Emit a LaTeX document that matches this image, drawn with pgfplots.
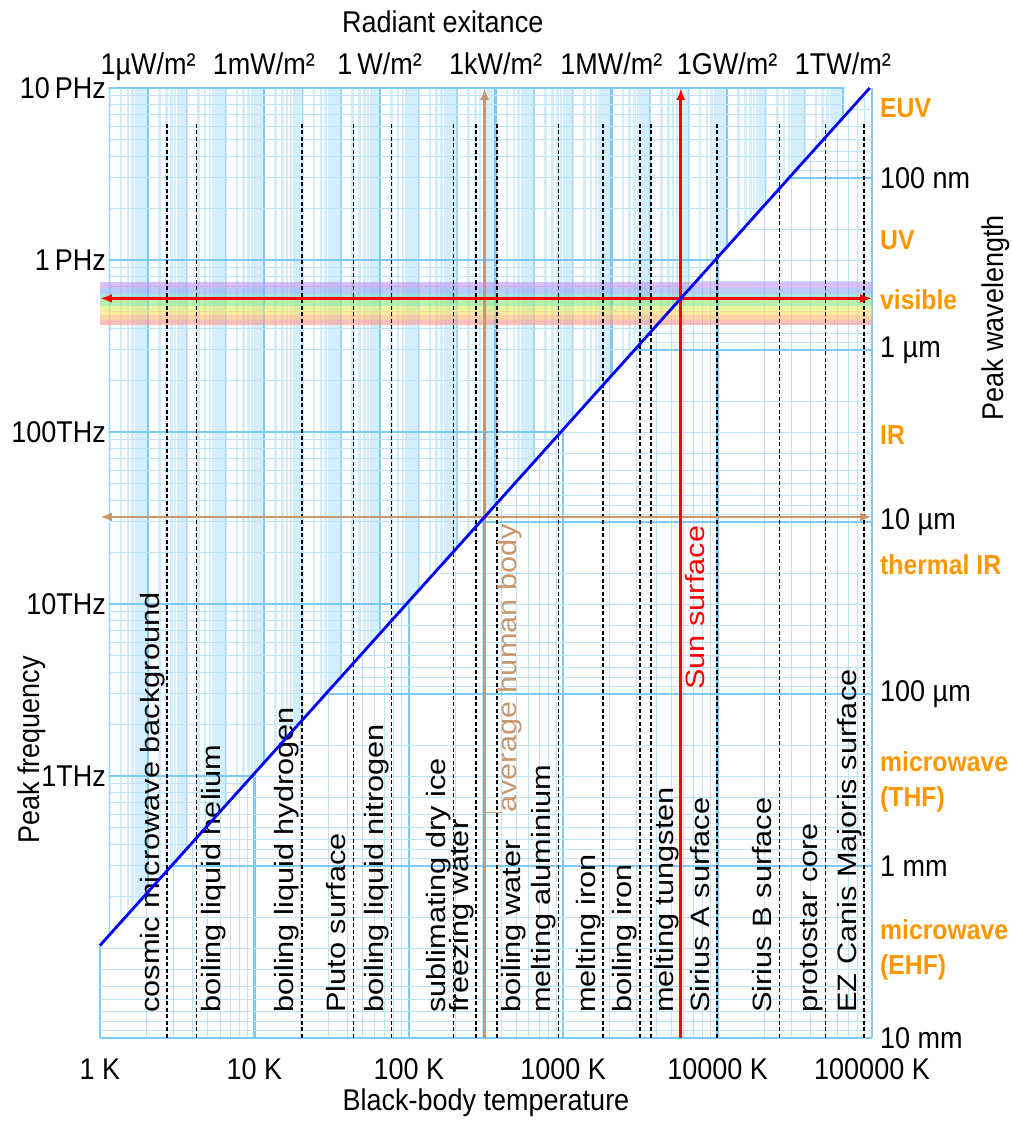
\documentclass[border=0pt]{standalone}
\usepackage{fontspec}
\usepackage{pgfplots}
\pgfplotsset{compat=1.18}
\usetikzlibrary{arrows.meta}
\setmainfont{Liberation Sans}
\newfontfamily\hfont[FakeStretch=0.9]{Liberation Sans}
\newfontfamily\vfont[FakeStretch=1.16]{Liberation Sans}
\newcommand\hf{\hfont\fontsize{30}{34}\selectfont}
\newcommand\vf{\vfont\fontsize{26.5}{30}\selectfont}
\newcommand\of{\hfont\bfseries\fontsize{27.5}{35}\selectfont}

\definecolor{gridmaj}{RGB}{125,202,246}
\definecolor{griddec}{RGB}{160,216,247}
\definecolor{gridmin}{RGB}{190,228,249}
\definecolor{gridexit}{RGB}{212,238,252}
\definecolor{bodybrown}{RGB}{200,152,108}
\definecolor{bandname}{RGB}{255,150,0}
\definecolor{visA}{RGB}{190,150,240}
\definecolor{visB}{RGB}{140,170,240}
\definecolor{visC}{RGB}{120,210,200}
\definecolor{visD}{RGB}{140,230,120}
\definecolor{visE}{RGB}{220,240,100}
\definecolor{visF}{RGB}{255,220,100}
\definecolor{visG}{RGB}{255,180,110}
\definecolor{visH}{RGB}{255,150,140}

\pgfplotsset{
  gridonly/.style={scale only axis, width=772pt, height=950pt,
    axis line style={draw=none},
    major tick length=0pt, minor tick length=0pt,
    xticklabels={}, yticklabels={}, grid=both,
    major grid style={gridmaj, line width=2.4pt},
    minor grid style={gridmin, line width=1pt}},
}
\tikzset{
  reflabel/.style={xshift=#1, font=\vf, rotate=90, anchor=base west, inner sep=0pt},
  refline/.style={black, line width=1.5pt, dash pattern=on 4pt off 2.5pt},
  band/.style={draw=none, fill=#1, fill opacity=0.6},
  tip/.style={line width=2.8pt},
}

\begin{document}
\begin{tikzpicture}
\useasboundingbox (-100pt,-85pt) rectangle (911pt,1038pt);

% grid above the Wien line: radiant exitance (vertical) and frequency (horizontal)
\begin{scope}
\clip (8.5pt,101.99pt) -- (8.5pt,953pt) -- (744.5pt,953pt) -- (744.5pt,921.91pt) -- cycle;
\begin{axis}[gridonly, xmode=log, ymode=log,
  xmin=5.670374e-8, xmax=5.670374e12, ymin=2.99792458e10, ymax=1e16,
  ytick=\empty,
  xtick={1e-8,1e-7,1e-6,1e-5,1e-4,1e-3,1e-2,1e-1,1,1e1,1e2,1e3,1e4,1e5,1e6,1e7,1e8,1e9,1e10,1e11,1e12},
  major grid style={griddec, line width=1.5pt},
  minor grid style={gridexit, line width=2.6pt}]
\end{axis}
\begin{axis}[gridonly, xmode=log, ymode=log,
  xmin=5.670374e-8, xmax=5.670374e12, ymin=2.99792458e10, ymax=1e16,
  ytick=\empty,
  xtick={1e-6,1e-3,1,1e3,1e6,1e9,1e12}, grid=major]
\end{axis}
\begin{axis}[gridonly, xmode=log, ymode=log,
  xmin=1, xmax=1e5, ymin=2.99792458e10, ymax=1e16, xtick=\empty,
  ytick={1e10,1e11,1e12,1e13,1e14,1e15,1e16}]
\end{axis}
\end{scope}

% grid below the Wien line: temperature (vertical) and wavelength (horizontal)
\begin{scope}
\clip (-3pt,-3pt) -- (775pt,-3pt) -- (775pt,953pt) -- (772.4pt,953pt) -- (-3pt,89.19pt) -- cycle;
\begin{axis}[gridonly, xmode=log, ymode=log,
  xmin=1, xmax=1e5, ymin=2.99792458e10, ymax=1e16, ytick=\empty,
  xtick={1,10,100,1000,10000,100000}]
\end{axis}
\begin{axis}[gridonly, xmode=log, ymode=log,
  xmin=1, xmax=1e5, ymin=2.99792458e-8, ymax=1e-2, y dir=reverse, xtick=\empty,
  ytick={1e-8,1e-7,1e-6,1e-5,1e-4,1e-3,1e-2}]
\end{axis}
\end{scope}

% main axes: temperature against peak frequency
\begin{axis}[scale only axis, width=772pt, height=950pt, xmode=log, ymode=log,
  xmin=1, xmax=1e5, ymin=2.99792458e10, ymax=1e16, clip=false,
  axis line style={draw=none}, major tick length=0pt, minor tick length=0pt,
  xtick={1,10,100,1000,10000,100000},
  xticklabels={1 K,10 K,100 K,1000 K,10000 K,100000 K},
  ytick={1e12,1e13,1e14,1e15,1e16},
  yticklabels={1THz,10THz,100THz,1\,PHz,10\,PHz},
  xticklabel style={font=\hf, anchor=base, inner sep=0pt, yshift=-42pt},
  yticklabel style={font=\hf, anchor=east, inner sep=0pt, xshift=6pt},
  xlabel={Black-body temperature}, ylabel={Peak frequency},
  xlabel style={font=\hf, at={(axis description cs:0.5,-0.0768)}, anchor=base, inner sep=0pt},
  ylabel style={font=\hf, at={(axis description cs:-0.079,0.303)}, anchor=base, inner sep=0pt}]

% visible band
\addplot[band=visA] coordinates {(1,7.45e14) (1e5,7.45e14) (1e5,6.9e14) (1,6.9e14)} -- cycle;
\addplot[band=visB] coordinates {(1,6.9e14) (1e5,6.9e14) (1e5,6.35e14) (1,6.35e14)} -- cycle;
\addplot[band=visC] coordinates {(1,6.35e14) (1e5,6.35e14) (1e5,6.0e14) (1,6.0e14)} -- cycle;
\addplot[band=visD] coordinates {(1,6.0e14) (1e5,6.0e14) (1e5,5.4e14) (1,5.4e14)} -- cycle;
\addplot[band=visE] coordinates {(1,5.4e14) (1e5,5.4e14) (1e5,5.1e14) (1,5.1e14)} -- cycle;
\addplot[band=visF] coordinates {(1,5.1e14) (1e5,5.1e14) (1e5,4.8e14) (1,4.8e14)} -- cycle;
\addplot[band=visG] coordinates {(1,4.8e14) (1e5,4.8e14) (1e5,4.5e14) (1,4.5e14)} -- cycle;
\addplot[band=visH] coordinates {(1,4.5e14) (1e5,4.5e14) (1e5,4.19e14) (1,4.19e14)} -- cycle;

% reference temperatures
\addplot[refline] coordinates {(2.725,2.99792458e10) (2.725,6.26e15)};
\addplot[refline] coordinates {(4.22,2.99792458e10) (4.22,6.26e15)};
\addplot[refline] coordinates {(20.28,2.99792458e10) (20.28,6.26e15)};
\addplot[refline] coordinates {(44,2.99792458e10) (44,6.26e15)};
\addplot[refline] coordinates {(77.36,2.99792458e10) (77.36,6.26e15)};
\addplot[refline] coordinates {(194.65,2.99792458e10) (194.65,6.26e15)};
\addplot[refline] coordinates {(273.15,2.99792458e10) (273.15,6.26e15)};
\addplot[refline] coordinates {(373.15,2.99792458e10) (373.15,6.26e15)};
\addplot[refline] coordinates {(933.47,2.99792458e10) (933.47,6.26e15)};
\addplot[refline] coordinates {(1811,2.99792458e10) (1811,6.26e15)};
\addplot[refline] coordinates {(3134,2.99792458e10) (3134,6.26e15)};
\addplot[refline] coordinates {(3695,2.99792458e10) (3695,6.26e15)};
\addplot[refline] coordinates {(9940,2.99792458e10) (9940,6.26e15)};
\addplot[refline] coordinates {(25200,2.99792458e10) (25200,6.26e15)};
\addplot[refline] coordinates {(50000,2.99792458e10) (50000,6.26e15)};
\addplot[refline] coordinates {(89000,2.99792458e10) (89000,6.26e15)};

\node[reflabel=-8pt] at (axis cs:2.725,4.19e10) {cosmic microwave background};
\node[reflabel=24pt] at (axis cs:4.22,4.19e10) {boiling liquid helium};
\node[reflabel=-8pt] at (axis cs:20.28,4.19e10) {boiling liquid hydrogen};
\node[reflabel=-8pt] at (axis cs:44,4.19e10) {Pluto surface};
\node[reflabel=-8pt] at (axis cs:77.36,4.19e10) {boiling liquid nitrogen};
\node[reflabel=-8pt] at (axis cs:194.65,4.19e10) {sublimating dry ice};
\node[reflabel=-8pt] at (axis cs:273.15,4.19e10) {freezing water};
\node[reflabel=23pt] at (axis cs:373.15,4.19e10) {boiling water};
\node[reflabel=-8pt] at (axis cs:933.47,4.19e10) {melting aluminium};
\node[reflabel=-8pt] at (axis cs:1811,4.19e10) {melting iron};
\node[reflabel=-8pt] at (axis cs:3134,4.19e10) {boiling iron};
\node[reflabel=23pt] at (axis cs:3695,4.19e10) {melting tungsten};
\node[reflabel=-8pt] at (axis cs:9940,4.19e10) {Sirius A surface};
\node[reflabel=-8pt] at (axis cs:25200,4.19e10) {Sirius B surface};
\node[reflabel=-8pt] at (axis cs:50000,4.19e10) {protostar core};
\node[reflabel=-8pt] at (axis cs:89000,4.19e10) {EZ Canis Majoris surface};

% average human body, 310 K
\addplot[bodybrown, tip, -{Latex[length=12pt,width=9pt]}]
  coordinates {(310,2.99792458e10) (310,1e16)};
\addplot[bodybrown, tip, {Latex[length=12pt,width=9pt]}-{Latex[length=12pt,width=9pt]}]
  coordinates {(1,3.207e13) (1e5,3.207e13)};
\addplot[bodybrown, line width=1pt] coordinates {(310,6.1e11) (400,6.1e11)};
\node[reflabel=32pt, text=bodybrown] at (axis cs:310,6.1e11) {average human body};

% Sun surface, 5778 K
\addplot[red, tip, -{Latex[length=12pt,width=9pt]}]
  coordinates {(5778,2.99792458e10) (5778,1e16)};
\addplot[red, tip, {Latex[length=12pt,width=9pt]}-{Latex[length=12pt,width=9pt]}]
  coordinates {(1,5.977e14) (1e5,5.977e14)};
\node[reflabel=24pt, text=red] at (axis cs:5778,3.16e12) {Sun surface};

% Wien's displacement law, nu = (c/b) T
\addplot[blue, tip] coordinates {(1,1.0346e11) (96660,1e16)};
\end{axis}

% secondary scales: radiant exitance (top) and peak wavelength (right)
\begin{axis}[scale only axis, width=772pt, height=950pt, xmode=log, ymode=log,
  xmin=5.670374e-8, xmax=5.670374e12, ymin=2.99792458e-8, ymax=1e-2, y dir=reverse,
  clip=false, axis x line*=top, axis y line*=right, axis line style={draw=none},
  major tick length=0pt, minor tick length=0pt,
  xtick={1e-6,1e-3,1,1e3,1e6,1e9,1e12},
  xticklabels={1µW/m²,1mW/m²,1\,W/m²,1kW/m²,1MW/m²,1GW/m²,1TW/m²},
  ytick={1e-7,1e-6,1e-5,1e-4,1e-3,1e-2},
  yticklabels={100 nm,1 µm,10 µm,100 µm,1 mm,10 mm},
  xticklabel style={font=\hf, anchor=base, inner sep=0pt, yshift=13pt},
  yticklabel style={font=\hf, anchor=west, inner sep=0pt, xshift=8pt},
  xlabel={Radiant exitance}, ylabel={Peak wavelength},
  xlabel style={font=\hf, at={(axis description cs:0.444,1.0589)}, anchor=base, inner sep=0pt},
  ylabel style={font=\hf, at={(axis description cs:1.1697,0.758)}, anchor=base, inner sep=0pt}]
\begin{scope}[every node/.style={font=\of, text=bandname, anchor=west, inner sep=0pt, xshift=8pt, align=left}]
\node at (axis cs:5.670374e12,3.92e-8) {EUV};
\node at (axis cs:5.670374e12,2.29e-7) {UV};
\node at (axis cs:5.670374e12,5.12e-7) {visible};
\node at (axis cs:5.670374e12,3.12e-6) {IR};
\node at (axis cs:5.670374e12,1.779e-5) {thermal IR};
\node at (axis cs:5.670374e12,3.25e-4) {microwave\\(THF)};
\node at (axis cs:5.670374e12,3.08e-3) {microwave\\(EHF)};
\end{scope}
\end{axis}
\end{tikzpicture}
\end{document}
